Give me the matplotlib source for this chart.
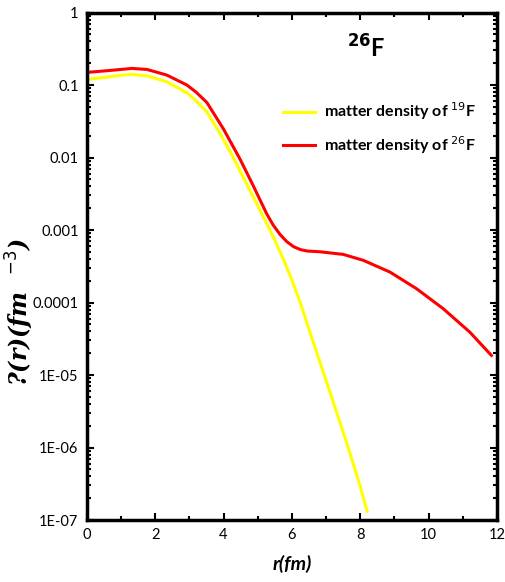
import numpy as np
import matplotlib.pyplot as plt
from matplotlib.ticker import FixedLocator, FixedFormatter, LogLocator, NullFormatter, MultipleLocator

# values (r in fm, log10 of density)
r_19 = [0, 0.585, 1.0, 1.317, 1.756, 2.34, 2.93, 3.2, 3.51, 3.90, 4.24, 4.38, 4.87, 5.36, 5.75,
        6.0, 6.23, 6.62, 7.11, 7.60, 7.99, 8.2]
log_rho_19 = [-0.923, -0.891, -0.865, -0.854, -0.873, -0.956, -1.108, -1.22, -1.37, -1.67, -1.96,
              -2.09, -2.544, -3.00, -3.40, -3.69, -3.98, -4.54, -5.23, -5.93, -6.52, -6.88]

r_26 = [0, 0.585, 1.0, 1.317, 1.756, 2.34, 2.93, 3.2, 3.51, 3.75, 3.99, 4.48, 4.87, 5.26, 5.45,
        5.65, 5.85, 6.05, 6.25, 6.45, 6.82, 7.50, 8.09, 8.87, 9.65, 10.43, 11.21, 11.84]
log_rho_26 = [-0.826, -0.803, -0.785, -0.771, -0.785, -0.863, -1.001, -1.10, -1.24, -1.42, -1.60,
              -2.02, -2.39, -2.774, -2.93, -3.06, -3.16, -3.23, -3.27, -3.29, -3.30, -3.336,
              -3.418, -3.58, -3.81, -4.086, -4.41, -4.73]

y_ticks = [1, 0.1, 0.01, 0.001, 0.0001, 1e-5, 1e-6, 1e-7]
y_labels = ["1", "0.1", "0.01", "0.001", "0.0001", "1E-05", "1E-06", "1E-07"]

plt.rcParams['font.family'] = ['Lato', 'DejaVu Sans']

fig = plt.figure(figsize=(5.05, 5.82), dpi=100)
ax = fig.add_axes([0.172, 0.1065, 0.812, 0.872])

ax.plot(r_19, 10 ** np.array(log_rho_19), color="#ffff00", lw=2.2,
        solid_joinstyle="round", label="matter density of $^{19}$F")
ax.plot(r_26, 10 ** np.array(log_rho_26), color="#ff0000", lw=2.2,
        solid_joinstyle="round", label="matter density of $^{26}$F")

ax.set_yscale("log")
ax.set_xlim(0, 12)
ax.set_ylim(1e-7, 1)

ax.yaxis.set_major_locator(FixedLocator(y_ticks))
ax.yaxis.set_major_formatter(FixedFormatter(y_labels))
ax.yaxis.set_minor_locator(LogLocator(base=10, subs=np.arange(2, 10)))
ax.yaxis.set_minor_formatter(NullFormatter())
ax.xaxis.set_major_locator(MultipleLocator(2))
ax.xaxis.set_minor_locator(MultipleLocator(1))

ax.tick_params(which="both", direction="in", top=True, right=True, width=1.5, labelsize=10.5)
ax.tick_params(which="major", length=5, pad=6)
ax.tick_params(which="minor", length=3)
for s in ax.spines.values():
    s.set_linewidth(2.5)

ax.set_xlabel("r(fm)", fontsize=14, fontweight="bold", style="italic", labelpad=9)
ax.set_ylabel("?(r)(fm  $^{-3}$)", fontsize=17, fontweight="bold", style="italic",
              family=["DejaVu Serif"])
ax.yaxis.set_label_coords(-0.125, 0.41)

ax.text(0.634, 0.93, "$^{\\mathbf{26}}$F", transform=ax.transAxes, fontsize=17,
        fontweight="bold", ha="left", va="center")

leg = ax.legend(loc="upper right", bbox_to_anchor=(0.985, 0.855), frameon=False,
                fontsize=11.5, handlelength=2.0, handletextpad=0.6, labelspacing=0.75)
for t in leg.get_texts():
    t.set_fontweight("bold")

fig.savefig("out.png", dpi=100)
